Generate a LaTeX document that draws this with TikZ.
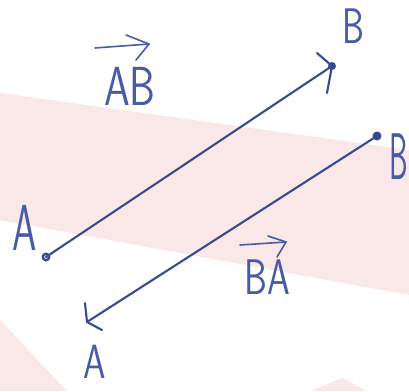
\documentclass[tikz,border=0pt]{standalone}
\usepackage{graphicx}
\definecolor{ink}{RGB}{56,74,144}
\definecolor{inklight}{RGB}{72,92,165}
\definecolor{bandpink}{RGB}{250,231,231}
\tikzset{
  inkline/.style={draw=ink, line width=2.1pt, line cap=round, line join=round},
  thinink/.style={draw=inklight, line width=1.6pt, line cap=round, line join=round},
  lbl/.style={text=inklight, inner sep=0pt, font=\sffamily},
  band/.style={fill=bandpink, draw=none}
}
\begin{document}
\begin{tikzpicture}[x=1pt,y=-1pt]
\useasboundingbox (0,0) rectangle (409,391);
\clip (0,0) rectangle (409,391);
% pink background bands
\fill[band] (0,93) -- (409,150) -- (409,295) -- (0,220) -- cycle;
\fill[band] (0,320) -- (67,391) -- (0,391) -- cycle;
\fill[band] (310,391) -- (343,378) -- (367,391) -- cycle;
% end points
\coordinate (A1) at (46,257);
\coordinate (B1) at (332,66);
\coordinate (B2) at (377,136);
\coordinate (A2) at (87,322);
\coordinate (h1a) at (317,53);
\coordinate (h1b) at (327,93);
\coordinate (h2a) at (85,303);
\coordinate (h2b) at (102,330);
% vector AB
\draw[inkline] (A1) -- (B1);
\draw[inkline] (h1a) -- (B1) -- (h1b);
\draw[ink, line width=2.4pt] (A1) circle (3.2pt);
\fill[ink] (B1) circle (4pt);
% vector BA
\draw[inkline] (B2) -- (A2);
\draw[inkline] (h2a) -- (A2) -- (h2b);
\fill[ink] (B2) circle (4.5pt);
% point labels
\node[lbl] (lA1) at (25,228) {\fontsize{65}{65}\selectfont\scalebox{0.6}[1]{A}};
\node[lbl] (lB1) at (353,26) {\fontsize{50}{50}\selectfont\scalebox{0.7}[1]{B}};
\node[lbl, anchor=west] (lB2) at (389,157) {\fontsize{66}{66}\selectfont\scalebox{0.45}[1]{B}};
\node[lbl] (lA2) at (95,362) {\fontsize{48}{48}\selectfont\scalebox{0.75}[1]{A}};
% vector names
\node[lbl] (lAB) at (130,86) {\fontsize{55}{55}\selectfont\scalebox{0.75}[1]{AB}};
\coordinate (ab0) at (95,48);
\coordinate (ab1) at (149,44);
\coordinate (ab2) at (126,35);
\coordinate (ab3) at (136,60);
\draw[thinink] (ab0) -- (ab1);
\draw[thinink] (ab2) -- (ab1) -- (ab3);
\node[lbl] (lBA) at (267,277) {\fontsize{50}{50}\selectfont\scalebox{0.73}[1]{BA}};
\coordinate (ba0) at (240,245);
\coordinate (ba1) at (286,242);
\coordinate (ba2) at (268,236);
\coordinate (ba3) at (277,257);
\draw[thinink] (ba0) -- (ba1);
\draw[thinink] (ba2) -- (ba1) -- (ba3);
\end{tikzpicture}
\end{document}
